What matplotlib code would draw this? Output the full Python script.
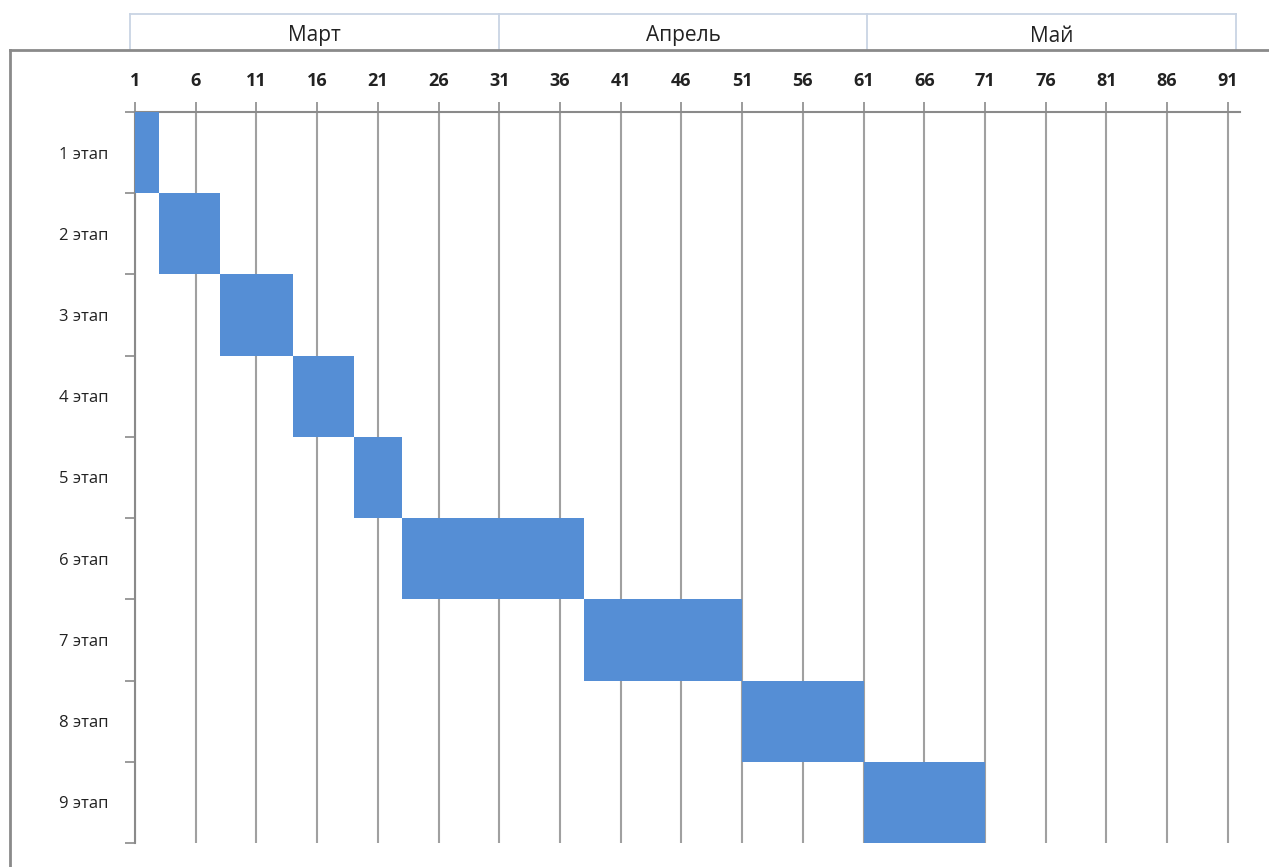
import matplotlib.pyplot as plt
from matplotlib.lines import Line2D

stages = ["1 этап", "2 этап", "3 этап", "4 этап", "5 этап",
          "6 этап", "7 этап", "8 этап", "9 этап"]
start_day = [1, 3, 8, 14, 19, 23, 38, 51, 61]
end_day = [3, 8, 14, 19, 23, 38, 51, 61, 71]
x_ticks = list(range(1, 92, 5))
months = ["Март", "Апрель", "Май"]

W, H = 1269, 867
plt.rcParams["font.family"] = ["Open Sans", "DejaVu Sans"]

fig = plt.figure(figsize=(W / 100, H / 100), dpi=100)


def fx(px):
    return px / W


def fy(py):
    return 1 - py / H


# month header cells (like spreadsheet cells above the chart)
cell_color = "#c9d4e4"
edges = [130, 499, 867, 1236]
fig.add_artist(Line2D([fx(edges[0]), fx(edges[-1])], [fy(14), fy(14)],
                      color=cell_color, lw=1.3))
for e in edges:
    fig.add_artist(Line2D([fx(e), fx(e)], [fy(14), fy(50)],
                          color=cell_color, lw=1.3))
for i, name in enumerate(months):
    cx = (edges[i] + edges[i + 1]) / 2
    fig.text(fx(cx), fy(36), name, ha="center", va="center",
             fontsize=15, color="#222222")

# chart area frame
fig.add_artist(Line2D([fx(10), 1.0], [fy(50), fy(50)], color="#8a8a8a", lw=2))
fig.add_artist(Line2D([fx(10), fx(10)], [fy(50), 0.0], color="#8a8a8a", lw=2))

ax = fig.add_axes([fx(135), fy(843), fx(1240) - fx(135), fy(112) - fy(843)])

y_pos = list(range(len(stages)))
widths = [e - s for s, e in zip(start_day, end_day)]
ax.barh(y_pos, widths, left=start_day, height=1.0, color="#558ed5",
        zorder=3)

ax.set_xlim(1, 92)
ax.set_ylim(len(stages) - 0.5, -0.5)

ax.xaxis.tick_top()
ax.set_xticks(x_ticks)
ax.set_xticklabels([str(t) for t in x_ticks], fontsize=13, fontweight="bold",
                   color="#222222")
ax.tick_params(axis="x", direction="out", length=7, width=1.2,
               color="#8a8a8a", pad=9)
ax.grid(axis="x", color="#a0a0a0", lw=1.5, zorder=0)

ax.set_yticks(y_pos)
ax.set_yticklabels(stages, fontsize=12, color="#222222")
ax.set_yticks([i - 0.5 for i in range(len(stages) + 1)], minor=True)
ax.tick_params(axis="y", which="major", length=0, pad=19)
ax.tick_params(axis="y", which="minor", direction="out", length=7, width=1.2,
               color="#8a8a8a")

for side in ["right", "bottom"]:
    ax.spines[side].set_visible(False)
for side in ["left", "top"]:
    ax.spines[side].set_color("#8a8a8a")
    ax.spines[side].set_linewidth(1.5)

fig.savefig("out.png", dpi=100)
